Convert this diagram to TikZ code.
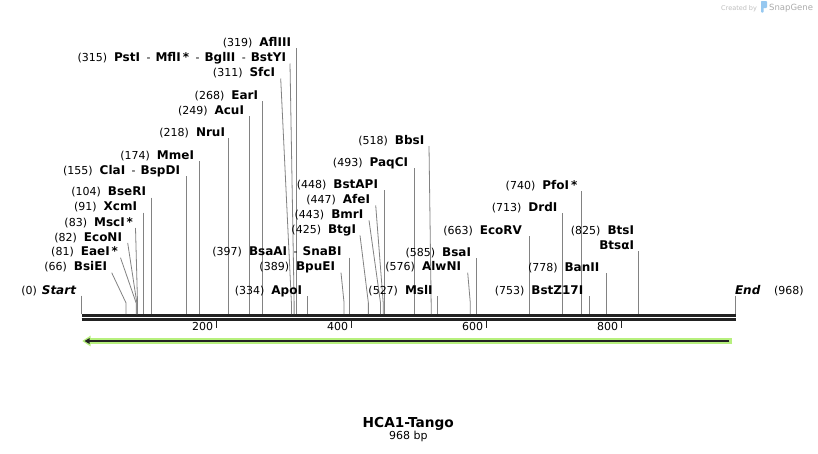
\documentclass[tikz,border=0pt]{standalone}
\usepackage{fontspec}
\setmainfont{DejaVu Sans}
\usetikzlibrary{arrows.meta,calc}
\definecolor{cutgray}{RGB}{130,130,130}
\definecolor{bbone}{RGB}{34,34,34}
\definecolor{featgreen}{RGB}{183,240,126}
\definecolor{wmgray}{RGB}{190,190,190}
\definecolor{wmblue}{RGB}{150,200,240}
\newcommand\B[1]{{\fontsize{12}{14}\selectfont\bfseries #1}}
\newcommand\sepd{\hspace{6.5pt}-\hspace{5pt}}
% #1 bp, #2 name, #3 right x of name, #4 centre y, #5 x of line top
\newcommand\enzs[5]{%
  \node[lbl, anchor=base east] (n#1) at (#3,#4+4) {#2};
  \node[lbl, anchor=base east] (p#1) at ([xshift=-7pt]n#1.base west) {(#1)};
  \coordinate (t#1) at (#5,#4+6);
  \coordinate (k#1) at ({81.5+0.675*#1},303);
  \coordinate (s#1) at ({81.5+0.675*#1},314);
  \draw[cut] (t#1) -- (k#1) -- (s#1);
}
\newcommand\enzv[4]{\enzs{#1}{#2}{#3}{#4}{{81.5+0.675*#1}}}
\begin{document}
\begin{tikzpicture}[x=1pt,y=-1pt,
  lbl/.style={font=\fontsize{11}{13}\selectfont, inner sep=0pt, outer sep=0pt, text=black},
  cut/.style={draw=cutgray, line width=0.8pt},
  bb/.style={draw=bbone},
  tick/.style={draw=bbone, line width=1.6pt}]
\fill[white] (0,0) rectangle (818,453);
\useasboundingbox (0,0) rectangle (818,453);

% backbone
\coordinate (bbL1) at (81.5,315.5);
\coordinate (bbR1) at (736,315.5);
\coordinate (bbL2) at (81.5,319.5);
\coordinate (bbR2) at (736,319.5);
\draw[bb, line width=3pt] (bbL1) -- (bbR1);
\draw[bb, line width=2.4pt] (bbL2) -- (bbR2);

% ticks
\foreach \v in {200,400,600,800}{
  \coordinate (tk\v) at ({81.5+0.675*\v},320.5);
  \coordinate (tb\v) at ({81.5+0.675*\v},327.5);
  \draw[tick] (tk\v) -- (tb\v);
  \node[lbl, anchor=base east] (tl\v) at ({81.5+0.675*\v-3.5},330.7) {\v};
}

% feature arrow
\coordinate (fR) at (732,341);
\coordinate (fL) at (89,341);
\draw[featgreen, line width=5.4pt] (fR) -- (fL);
\fill[featgreen] (82.3,341) -- (90.5,335.6) -- (90.5,346.4) -- cycle;
\coordinate (aR) at (729,341);
\coordinate (aL) at (84.5,341);
\draw[bbone, line width=1.8pt, -{Triangle[length=5pt,width=5.5pt]}] (aR) -- (aL);

% start / end
\node[lbl, anchor=base east] (nStart) at (76,294) {\B{\itshape Start}};
\node[lbl, anchor=base east] (p0) at ([xshift=-5pt]nStart.base west) {(0)};
\coordinate (tStart) at (81.5,295.5);
\coordinate (sStart) at (81.5,314);
\draw[cut] (tStart) -- (sStart);
\node[lbl, anchor=base west] (nEnd) at (735,294) {\B{\itshape End}};
\node[lbl, anchor=base west] (p968) at (774,294) {(968)};
\coordinate (tEnd) at (735,295.5);
\coordinate (sEnd) at (735,314);
\draw[cut] (tEnd) -- (sEnd);

% enzymes
\enzs{66}{\B{BsiEI}}{107}{266.7}{111.7}
\enzs{81}{\B{EaeI\,*}}{118}{251.7}{120.5}
\enzs{82}{\B{EcoNI}}{122}{237}{127.7}
\enzs{83}{\B{MscI\,*}}{133}{222}{135.5}
\enzv{91}{\B{XcmI}}{137}{206.7}
\enzv{104}{\B{BseRI}}{146}{191.7}
\enzv{155}{\B{ClaI}\sepd\B{BspDI}}{180}{170}
\enzv{174}{\B{MmeI}}{194}{155}
\enzv{218}{\B{NruI}}{225}{132}
\enzv{249}{\B{AcuI}}{244}{110}
\enzv{268}{\B{EarI}}{258}{95}
\enzs{311}{\B{SfcI}}{275}{72.5}{280.7}
\enzs{315}{\B{PstI}\sepd\B{MflI\,*}\sepd\B{BglII}\sepd\B{BstYI}}{286}{57.5}{290}
\enzv{319}{\B{AflIII}}{291}{42.3}
\enzv{334}{\B{ApoI}}{302}{290}
\enzs{389}{\B{BpuEI}}{335}{266.7}{341}
\enzv{397}{\B{BsaAI}\sepd\B{SnaBI}}{341.5}{251.7}
\enzs{425}{\B{BtgI}}{356}{229.3}{360}
\enzs{443}{\B{BmrI}}{363.3}{214.3}{369}
\enzs{447}{\B{AfeI}}{370}{199.3}{375.7}
\enzv{448}{\B{BstAPI}}{378}{184.3}
\enzv{493}{\B{PaqCI}}{408}{162.3}
\enzs{518}{\B{BbsI}}{424.3}{140}{429}
\enzv{527}{\B{MslI}}{432.7}{290}
\enzs{576}{\B{AlwNI}}{461}{266.7}{467.7}
\enzv{585}{\B{BsaI}}{471}{252}
\enzv{663}{\B{EcoRV}}{522}{230}
\enzv{713}{\B{DrdI}}{557.3}{207.3}
\enzv{740}{\B{PfoI\,*}}{577.3}{185}
\enzv{753}{\B{BstZ17I}}{583.3}{290}
\enzv{778}{\B{BanII}}{599.3}{267.3}

% BtsI / BtsaI
\node[lbl, anchor=base east] (n825) at (634,234) {\B{BtsI}};
\node[lbl, anchor=base east] (p825) at ([xshift=-7pt]n825.base west) {(825)};
\node[lbl, anchor=base east] (n825b) at (634,249) {\B{BtsαI}};
\coordinate (t825) at ({81.5+0.675*825},251);
\coordinate (s825) at ({81.5+0.675*825},314);
\draw[cut] (t825) -- (s825);

% title
\node[anchor=base, inner sep=0pt, font=\fontsize{13.7}{16}\selectfont\bfseries] (title) at (408.3,427) {HCA1-Tango};
\node[lbl, anchor=base] (len) at (408.3,439.5) {968 bp};

% watermark
\node[anchor=base west, inner sep=0pt, text=wmgray, font=\fontsize{6.5}{8}\selectfont] (wm1) at (721,10.5) {Created by};
\fill[wmblue, rounded corners=1pt] (761,1) rectangle (767,8);
\fill[wmblue, rounded corners=0.8pt] (761,1) rectangle (763.6,12.5);
\node[anchor=base west, inner sep=0pt, text=wmgray!90!black, font=\fontsize{8.5}{10}\selectfont] (wm2) at (769,10.5) {SnapGene};
\end{tikzpicture}
\end{document}
